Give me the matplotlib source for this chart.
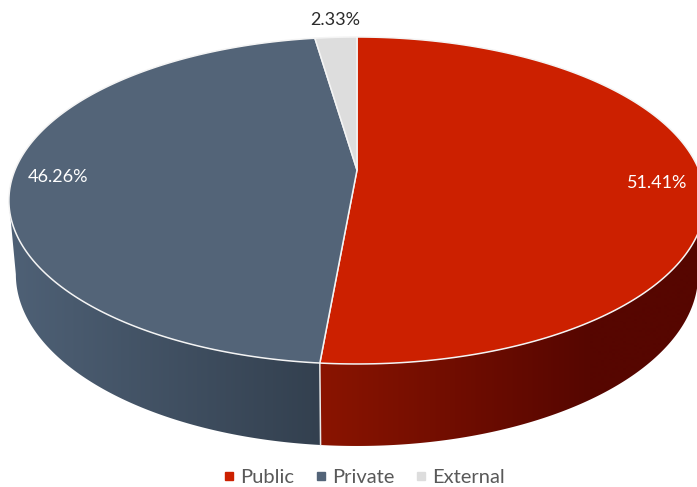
import numpy as np
import matplotlib
matplotlib.use("Agg")
import matplotlib.pyplot as plt
from matplotlib.colors import to_rgb
from matplotlib.lines import Line2D
from matplotlib.patches import Polygon

categories = ["Public", "Private", "External"]
shares = [51.41, 46.26, 2.33]
top_colors = ["#CC2000", "#536478", "#DDDDDD"]
# side wall shades at the two ends of each front slice's colour ramp
wall_from = {"Public": "#8A1400", "Private": "#4E6075"}
wall_to = {"Public": "#560600", "Private": "#33404F"}
# canvas x where each wall gradient starts and stops
wall_fade = {"Public": (321, 590), "Private": (16, 321)}

label_spots = [(657, 183), (58, 177), (335, 20)]
label_colors = ["white", "white", "#2B2B2B"]

plt.rcParams["font.family"] = ["Lato", "DejaVu Sans"]

CX, CY = 357.0, 170.0
RX, RY = 342.0, 157.8
TILT = 0.1865
BASE_SX, BASE_SY, BASE_DROP = 0.98, 1.05, 72.3


def project(theta_deg, sx=1.0, sy=1.0, drop=0.0):
    """Map a clockwise-from-north angle on the disc to canvas pixels, with perspective."""
    t = np.radians(theta_deg)
    x, y = np.sin(t), np.cos(t)
    w = 1 + TILT * y
    return np.column_stack([CX + sx * RX * x / w, CY + drop - sy * RY * y / w])


fig = plt.figure(figsize=(6.97, 4.87), dpi=100, facecolor="white")
ax = fig.add_axes([0, 0, 1, 1])

edges = np.concatenate([[0], np.cumsum(shares)]) * 3.6
split = edges[1]
# angle where the disc outline is widest, the wall silhouette runs between these points
widest = np.degrees(np.arccos(-TILT))

# Side wall: a horizontal colour ramp clipped to each front slice
wall_ranges = {"Public": (widest, split), "Private": (split, 360 - widest)}
for name, (a0, a1) in wall_ranges.items():
    angles = np.linspace(a0, a1, 240)
    outline = np.vstack([project(angles), project(angles[::-1], BASE_SX, BASE_SY, BASE_DROP)])
    xs = np.arange(0, 698)
    x0, x1 = wall_fade[name]
    frac = np.clip((xs - x0) / (x1 - x0), 0, 1)
    start, stop = np.array(to_rgb(wall_from[name])), np.array(to_rgb(wall_to[name]))
    ramp = start[None, :] + (stop - start)[None, :] * frac[:, None]
    image = ax.imshow(ramp[None, :, :], extent=(0, 697, 487, 0), aspect="auto",
                      interpolation="bilinear", zorder=1)
    clip = Polygon(outline, closed=True, transform=ax.transData, facecolor="none", edgecolor="none")
    ax.add_patch(clip)
    image.set_clip_path(clip)

# Divider between the two front walls
front = np.vstack([project(split), project(split, BASE_SX, BASE_SY, BASE_DROP)])
ax.plot(front[:, 0], front[:, 1], color="#E8E8E8", lw=1.1, zorder=2)

# Top face of the disc
for i, color in enumerate(top_colors):
    arc = project(np.linspace(edges[i], edges[i + 1], 200))
    poly = np.vstack([[CX, CY], arc])
    ax.add_patch(Polygon(poly, closed=True, facecolor=color, edgecolor="#F4F4F4", lw=1.1,
                         joinstyle="round", zorder=3))

# Percentage labels
for share, (x, y), color in zip(shares, label_spots, label_colors):
    ax.text(x, y, f"{share:.2f}%", color=color, fontsize=13, ha="center", va="center", zorder=5)

handles = [Line2D([], [], marker="s", linestyle="none", markersize=5.8, color=c) for c in top_colors]
ax.legend(handles, categories, loc="center", bbox_to_anchor=(362 / 697, 1 - 477.5 / 487), ncol=3,
          frameon=False, fontsize=14.5, labelcolor="#595959", handletextpad=0.03, columnspacing=0.85,
          borderpad=0, handlelength=1.0)

ax.set_xlim(0, 697)
ax.set_ylim(487, 0)
ax.axis("off")

fig.savefig("out.png", dpi=100)
